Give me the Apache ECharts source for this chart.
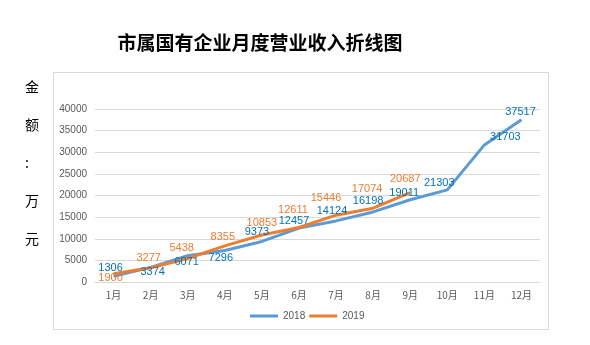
<!DOCTYPE html>
<html><head><meta charset="utf-8">
<script src="https://cdn.jsdelivr.net/npm/echarts@6/dist/echarts.min.js"></script>
<style>html,body{margin:0;padding:0;background:#fff}#c{width:590px;height:345px}</style>
</head><body><div id="c"></div>
<script>
const months = ['1月','2月','3月','4月','5月','6月','7月','8月','9月','10月','11月','12月'];
const sales2018 = [1306, 3374, 6071, 7296, 9373, 12457, 14124, 16198, 19011, 21303, 31703, 37517];
const sales2019 = [1900, 3277, 5438, 8355, 10853, 12611, 15446, 17074, 20687];
const yTicks = [0, 5000, 10000, 15000, 20000, 25000, 30000, 35000, 40000];
// label nudges (styling only)
const nudge2018 = [[-3,-8],[2,5],[-1,6],[-4,8],[-5,-9],[-5,-7],[-4,-10],[-5,-11],[-6,-7],[-8,-7],[21,-8],[-1,-8]];
const nudge2019 = [[-3,4],[-2,-10],[-6,-11],[-2,-9],[0,-12],[-6,-17],[-10,-17],[-6,-19],[-5,-14]];

const numFont = 'Liberation Sans';
function mk(vals, nudges) {
  return vals.map((v, i) => ({ value: v, label: { offset: nudges[i] } }));
}
const chart = echarts.init(document.getElementById('c'), null, {renderer: 'canvas'});
chart.setOption({
  animation: false,
  backgroundColor: '#fff',
  title: [{
    text: '市属国有企业月度营业收入折线图',
    left: 255, top: 28, textAlign: 'center',
    textStyle: { fontFamily: 'Noto Sans CJK SC', fontSize: 19, fontWeight: 'bold', color: '#000' }
  }, {
    text: '金\n额\n:\n万\n元',
    left: 20, top: 63,
    textStyle: { fontFamily: 'Noto Sans CJK SC', fontSize: 14, fontWeight: 'normal', color: '#000', lineHeight: 38 }
  }],
  graphic: [{
    type: 'rect', shape: { x: 53.5, y: 72.5, width: 495, height: 257 },
    style: { fill: 'none', stroke: '#d9d9d9', lineWidth: 1 }, z: -1
  }],
  grid: { left: 95, right: 50, top: 109, bottom: 63 },
  legend: {
    data: [
      { name: '2018', itemStyle: { color: '#5B9BD5' } },
      { name: '2019', itemStyle: { color: '#ED7D31' } }
    ],
    left: 245, top: 306,
    itemWidth: 28, itemHeight: 3, itemGap: 4, icon: 'rect',
    textStyle: { fontFamily: numFont, fontSize: 10, color: '#595959' }
  },
  xAxis: {
    type: 'category', data: months, boundaryGap: true,
    axisLine: { lineStyle: { color: '#d9d9d9' } },
    axisTick: { show: false },
    axisLabel: { color: '#595959', fontSize: 10, fontFamily: 'Noto Sans CJK SC', margin: 8 }
  },
  yAxis: {
    type: 'value', min: yTicks[0], max: yTicks[yTicks.length - 1], interval: yTicks[1] - yTicks[0],
    axisLine: { show: false }, axisTick: { show: false },
    splitLine: { lineStyle: { color: '#d9d9d9' } },
    axisLabel: { color: '#595959', fontSize: 10, fontFamily: numFont, margin: 8, formatter: v => String(v) }
  },
  series: [{
    name: '2018', type: 'line', data: mk(sales2018, nudge2018),
    symbol: 'circle', symbolSize: 1, showSymbol: true,
    itemStyle: { color: 'rgba(0,0,0,0)' },
    lineStyle: { color: '#5B9BD5', width: 3 },
    label: { show: true, position: 'inside', color: '#0070C0', fontSize: 11, fontFamily: numFont }
  }, {
    name: '2019', type: 'line', data: mk(sales2019, nudge2019),
    symbol: 'circle', symbolSize: 1, showSymbol: true,
    itemStyle: { color: 'rgba(0,0,0,0)' },
    lineStyle: { color: '#ED7D31', width: 3 },
    label: { show: true, position: 'inside', color: '#ED7D31', fontSize: 11, fontFamily: numFont }
  }]
});
</script></body></html>
